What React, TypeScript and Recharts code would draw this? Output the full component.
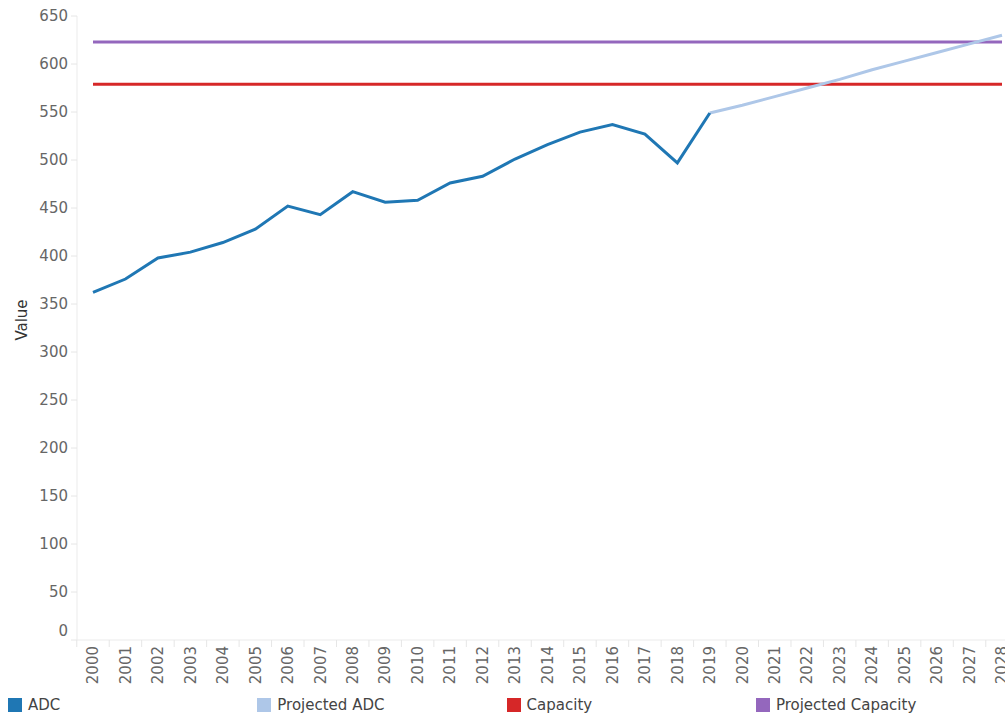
import { LineChart, Line, XAxis, YAxis } from 'recharts';

const years = [
  '2000', '2001', '2002', '2003', '2004', '2005', '2006', '2007', '2008', '2009',
  '2010', '2011', '2012', '2013', '2014', '2015', '2016', '2017', '2018', '2019',
  '2020', '2021', '2022', '2023', '2024', '2025', '2026', '2027', '2028',
];

// 2000 - 2019
const adc = [
  362, 376, 398, 404, 414, 428, 452, 443, 467, 456,
  458, 476, 483, 501, 516, 529, 537, 527, 497, 549,
];

// 2019 - 2028
const projectedAdc = [549, 557, 566, 575, 584, 594, 603, 612, 621, 630];
const projectedStart = '2019';

const capacity = 579;
const projectedCapacity = 623;

const yTicks = [0, 50, 100, 150, 200, 250, 300, 350, 400, 450, 500, 550, 600, 650];

const legendItems = [
  { name: 'ADC', color: '#1f77b4' },
  { name: 'Projected ADC', color: '#aec7e8' },
  { name: 'Capacity', color: '#d62728' },
  { name: 'Projected Capacity', color: '#9467bd' },
];

const startIdx = years.indexOf(projectedStart);
const data = years.map((year, i) => ({
  year,
  adc: i < adc.length ? adc[i] : null,
  projected: i >= startIdx ? projectedAdc[i - startIdx] : null,
  capacity,
  projectedCapacity,
}));

const FONT = '"DejaVu Sans", sans-serif';
const HALF_BAND = 16.23;

function YTick(props: any) {
  const { x, y, payload } = props;
  const shift = payload.value === 0 ? -9 : 0;
  return (
    <text x={x} y={y + shift} dy="0.35em" textAnchor="end" fill="#666" fontSize={15} fontFamily={FONT}>
      {payload.value}
    </text>
  );
}

function XTick(props: any) {
  const { x, y, payload } = props;
  return (
    <g>
      <line x1={x - HALF_BAND} x2={x - HALF_BAND} y1={y - 5} y2={y + 2} stroke="#e6e6e6" />
      <text
        x={x}
        y={y + 1}
        dy="0.35em"
        textAnchor="end"
        transform={`rotate(-90, ${x}, ${y + 1})`}
        fill="#666"
        fontSize={15}
        fontFamily={FONT}
      >
        {payload.value}
      </text>
    </g>
  );
}

function YLabel(props: any) {
  const { viewBox } = props;
  const cy = viewBox.y + viewBox.height / 2 - 8;
  return (
    <text x={14} y={cy} dy="0.35em" textAnchor="middle" transform={`rotate(-90, 14, ${cy})`} fill="#333" fontSize={15} fontFamily={FONT}>
      Value
    </text>
  );
}

export default function App() {
  return (
    <div
      style={{
        width: 1005,
        height: 715,
        boxSizing: 'border-box',
        paddingLeft: 8,
        paddingTop: 8,
        overflow: 'hidden',
        position: 'relative',
        background: '#fff',
      }}
    >
      <style>{'body { margin: 0; }'}</style>
      <LineChart width={1010} height={677} data={data} margin={{ top: 8, right: 0, left: 0, bottom: 0 }}>
        <XAxis
          dataKey="year"
          interval={0}
          height={45}
          padding={{ left: 16, right: 16 }}
          tick={<XTick />}
          tickLine={false}
          tickSize={0}
          tickMargin={5}
          axisLine={{ stroke: '#ebebeb' }}
        />
        <YAxis
          width={69}
          domain={[0, 650]}
          ticks={yTicks}
          interval={0}
          tick={<YTick />}
          tickSize={6}
          tickMargin={3}
          tickLine={{ stroke: '#e6e6e6' }}
          axisLine={{ stroke: '#ebebeb' }}
          label={<YLabel />}
        />
        <Line dataKey="capacity" stroke="#d62728" strokeWidth={3} dot={false} isAnimationActive={false} />
        <Line dataKey="projectedCapacity" stroke="#9467bd" strokeWidth={3} dot={false} isAnimationActive={false} />
        <Line dataKey="projected" stroke="#aec7e8" strokeWidth={3} dot={false} isAnimationActive={false} />
        <Line dataKey="adc" stroke="#1f77b4" strokeWidth={3} dot={false} isAnimationActive={false} />
      </LineChart>
      <div style={{ position: 'absolute', top: 696, left: 8, width: 997, height: 18, fontFamily: FONT, fontSize: 15, color: '#444' }}>
        {legendItems.map((item, i) => (
          <div key={item.name} style={{ position: 'absolute', left: i * 249.3, top: 0, display: 'flex', alignItems: 'center', whiteSpace: 'nowrap' }}>
            <span style={{ display: 'inline-block', width: 14, height: 14, background: item.color, marginRight: 6 }} />
            <span>{item.name}</span>
          </div>
        ))}
      </div>
    </div>
  );
}
